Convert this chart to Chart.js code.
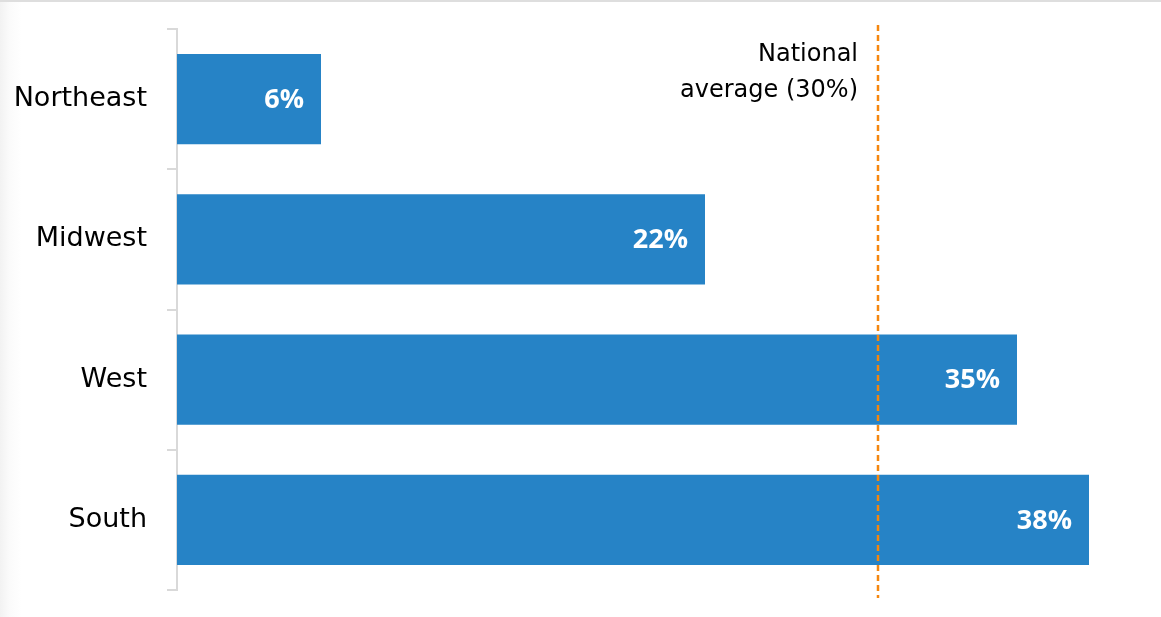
<!DOCTYPE html>
<html>
<head>
<meta charset="utf-8">
<script src="https://cdn.jsdelivr.net/npm/chart.js@4.4.1/dist/chart.umd.min.js"></script>
<style>
  html, body { margin: 0; padding: 0; background: #fff; }
  #wrap {
    position: relative; width: 1161px; height: 617px;
    background: linear-gradient(to right, #f2f2f2 0px, #fbfbfb 10px, #ffffff 22px);
  }
  #topline { position: absolute; left: 0; top: 0; width: 1161px; height: 2px; background: #dedede; }
  canvas { display: block; }
</style>
</head>
<body>
<div id="wrap"><canvas id="c"></canvas><div id="topline"></div></div>
<script>
const categories = ["Northeast", "Midwest", "West", "South"];
const shares = [6, 22, 35, 38];
const nationalAverage = 29.2;
const averageLabel = ["National", "average (30%)"];

const FONT = "'DejaVu Sans', 'Open Sans', sans-serif";
const VALUE_FONT = "'Open Sans', 'Liberation Sans', sans-serif";

const valueLabels = {
  id: 'valueLabels',
  afterDatasetsDraw(chart) {
    const ctx = chart.ctx;
    const meta = chart.getDatasetMeta(0);
    ctx.save();
    ctx.fillStyle = '#ffffff';
    ctx.font = 'bold 27px ' + VALUE_FONT;
    ctx.textAlign = 'right';
    ctx.textBaseline = 'middle';
    meta.data.forEach((bar, i) => {
      ctx.fillText(shares[i] + '%', bar.x - 17, bar.y + 1);
    });
    ctx.restore();
  }
};

const avgLine = {
  id: 'avgLine',
  afterDatasetsDraw(chart) {
    const ctx = chart.ctx;
    const x = Math.round(chart.scales.x.getPixelForValue(nationalAverage));
    const a = chart.chartArea;
    ctx.save();
    ctx.strokeStyle = '#F5870F';
    ctx.lineWidth = 2.5;
    ctx.setLineDash([6, 4]);
    ctx.beginPath();
    ctx.moveTo(x, a.top - 4);
    ctx.lineTo(x, a.bottom + 8);
    ctx.stroke();
    ctx.setLineDash([]);
    ctx.fillStyle = '#000000';
    ctx.font = '24px ' + FONT;
    ctx.textAlign = 'right';
    ctx.textBaseline = 'alphabetic';
    ctx.fillText(averageLabel[0], x - 20, a.top + 32);
    ctx.fillText(averageLabel[1], x - 20, a.top + 68);
    ctx.restore();
  }
};

new Chart(document.getElementById('c'), {
  type: 'bar',
  data: {
    labels: categories,
    datasets: [{
      data: shares,
      backgroundColor: '#2683C6',
      borderWidth: 0,
      barPercentage: 0.643,
      categoryPercentage: 1.0
    }]
  },
  options: {
    indexAxis: 'y',
    responsive: true,
    maintainAspectRatio: false,
    animation: false,
    layout: { padding: { top: 29, bottom: 27, left: 0, right: 24 } },
    plugins: { legend: { display: false }, tooltip: { enabled: false } },
    scales: {
      x: { display: false, min: 0, max: 40 },
      y: {
        afterFit(scale) { scale.width = 177; scale.paddingTop = 0; scale.paddingBottom = 0; },
        border: { display: true, color: '#d9d9d9', width: 2 },
        grid: { display: true, drawOnChartArea: false, drawTicks: true, tickLength: 10, color: '#d9d9d9', lineWidth: 2, offset: true },
        ticks: { color: '#000000', font: { size: 27, family: FONT }, padding: 20 }
      }
    }
  },
  plugins: [valueLabels, avgLine]
});
</script>
</body>
</html>
